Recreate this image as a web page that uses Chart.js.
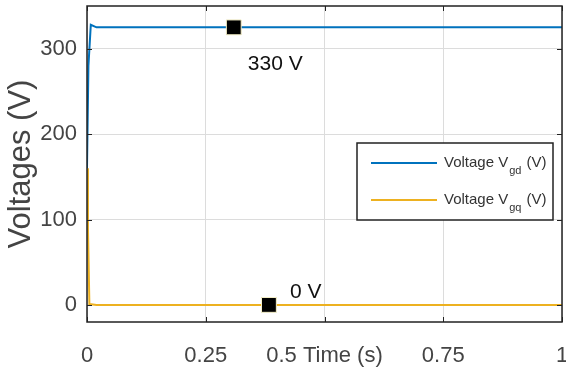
<!DOCTYPE html>
<html>
<head>
<meta charset="utf-8">
<script src="https://cdn.jsdelivr.net/npm/chart.js@4/dist/chart.umd.min.js"></script>
<style>
html,body{margin:0;padding:0;background:#fff;}
#wrap{width:566px;height:372px;position:relative;}
</style>
</head>
<body>
<div id="wrap"><canvas id="c" width="566" height="372"></canvas></div>
<script>
// Data
const vgdTime = [0, 0.003, 0.008, 0.02, 0.2, 0.5, 0.8, 1];
const vgdVals = [160, 280, 328, 325, 325, 325, 325, 325];
const vgqTime = [0, 0.002, 0.005, 0.02, 0.2, 0.5, 0.8, 1];
const vgqVals = [160, 90, 1, 0, 0, 0, 0, 0];
const markerTime = [0.309, 0.383];
const markerVals = [325, 0];
const markerLabels = ['330 V', '0 V'];
const xTicks = [0, 0.25, 0.5, 0.75, 1];
const yTicks = [0, 100, 200, 300];
const seriesNames = ['Voltage V', 'Voltage V'];
const seriesSubs = ['gd', 'gq'];

const BLUE = '#0072BD', YELLOW = '#EDB120';
const FONT = "'Liberation Sans', Arial, sans-serif";

const toPts = (xs, ys) => xs.map((x, i) => ({x, y: ys[i]}));

const extras = {
  id: 'extras',
  afterDatasetsDraw(chart) {
    const {ctx, chartArea: a, scales: {x, y}} = chart;
    ctx.save();
    // box
    ctx.strokeStyle = '#222';
    ctx.lineWidth = 1.5;
    ctx.strokeRect(a.left, a.top, a.right - a.left, a.bottom - a.top);
    // tick marks (inside)
    ctx.lineWidth = 1;
    ctx.beginPath();
    xTicks.forEach(v => { const px = Math.round(x.getPixelForValue(v)) + 0.5;
      ctx.moveTo(px, a.bottom); ctx.lineTo(px, a.bottom - 5);
      ctx.moveTo(px, a.top); ctx.lineTo(px, a.top + 5); });
    yTicks.forEach(v => { const py = Math.round(y.getPixelForValue(v)) + 0.5;
      ctx.moveTo(a.left, py); ctx.lineTo(a.left + 5, py);
      ctx.moveTo(a.right, py); ctx.lineTo(a.right - 5, py); });
    ctx.stroke();
    // marker labels
    ctx.fillStyle = '#111';
    ctx.font = '21px ' + FONT;
    ctx.textBaseline = 'middle';
    ctx.textAlign = 'left';
    ctx.fillText(markerLabels[0], x.getPixelForValue(markerTime[0]) + 14, y.getPixelForValue(markerVals[0]) + 37);
    ctx.fillText(markerLabels[1], x.getPixelForValue(markerTime[1]) + 21, y.getPixelForValue(markerVals[1]) - 13);
    // legend
    const lx = 357, ly = 143, lw = 196, lh = 77;
    ctx.fillStyle = '#fff';
    ctx.fillRect(lx, ly, lw, lh);
    ctx.strokeStyle = '#222';
    ctx.lineWidth = 1.5;
    ctx.strokeRect(lx, ly, lw, lh);
    const rows = [[BLUE, 163], [YELLOW, 200]];
    rows.forEach(([col, ry], i) => {
      ctx.strokeStyle = col; ctx.lineWidth = 2;
      ctx.beginPath(); ctx.moveTo(371, ry); ctx.lineTo(437, ry); ctx.stroke();
      ctx.fillStyle = '#333';
      ctx.textAlign = 'left'; ctx.textBaseline = 'middle';
      ctx.font = '15px ' + FONT;
      let tx = 444;
      ctx.fillText(seriesNames[i], tx, ry);
      tx += ctx.measureText(seriesNames[i]).width + 1;
      ctx.font = '11px ' + FONT;
      ctx.fillText(seriesSubs[i], tx, ry + 8);
      tx += ctx.measureText(seriesSubs[i]).width + 5;
      ctx.font = '15px ' + FONT;
      ctx.fillText('(V)', tx, ry);
    });
    ctx.restore();
  }
};

new Chart(document.getElementById('c'), {
  type: 'line',
  data: {
    datasets: [
      {data: toPts(vgdTime, vgdVals), borderColor: BLUE, borderWidth: 2, pointRadius: 0, tension: 0, order: 2},
      {data: toPts(vgqTime, vgqVals), borderColor: YELLOW, borderWidth: 2, pointRadius: 0, tension: 0, order: 3},
      {data: toPts(markerTime, markerVals), showLine: false, pointStyle: 'rect', pointRadius: 10.5,
       backgroundColor: '#000', borderColor: '#f5f0c8', borderWidth: 1, order: 0, clip: false}
    ]
  },
  options: {
    responsive: false,
    animation: false,
    layout: {autoPadding: false, padding: {top: 6, right: 4, left: 0, bottom: 0}},
    plugins: {legend: {display: false}, tooltip: {enabled: false}},
    scales: {
      x: {
        type: 'linear', min: 0, max: 1,
        afterBuildTicks: s => { s.ticks = xTicks.map(v => ({value: v})); },
        afterFit: s => { s.height = 50; s.paddingLeft = 0; s.paddingRight = 0; },
        grid: {color: '#dcdcdc', drawTicks: false},
        border: {display: false},
        ticks: {
          padding: 21, color: '#444', font: {size: 22, family: FONT}, maxRotation: 0, autoSkip: false,
          callback: v => v === 0.5 ? '0.5 Time (s)' : String(v)
        }
      },
      y: {
        type: 'linear', min: -20, max: 350,
        afterBuildTicks: s => { s.ticks = yTicks.map(v => ({value: v})); },
        afterFit: s => { s.width = 87; s.paddingTop = 0; s.paddingBottom = 0; },
        grid: {color: '#dcdcdc', drawTicks: false},
        border: {display: false},
        ticks: {padding: 10, color: '#444', font: {size: 22, family: FONT}},
        title: {display: true, text: 'Voltages (V)', color: '#444', font: {size: 31, family: FONT}, padding: {top: 3, bottom: 0}}
      }
    }
  },
  plugins: [extras]
});
</script>
</body>
</html>
